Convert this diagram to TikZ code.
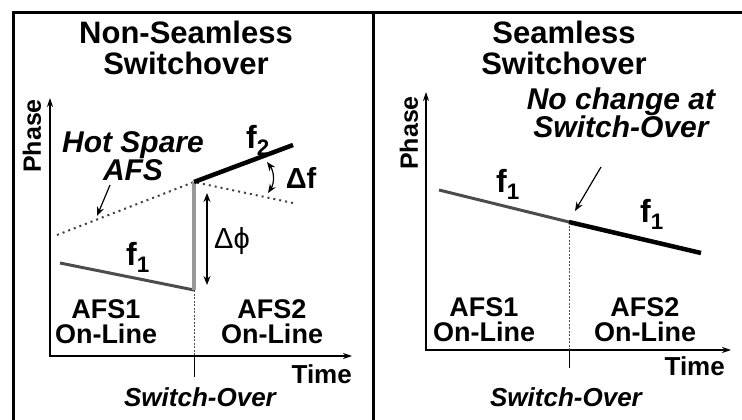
\documentclass[tikz,border=0pt]{standalone}
\usepackage{fontspec}
\setmainfont{Liberation Sans}
\usetikzlibrary{arrows.meta,positioning}
\tikzset{
  swframe/.style={line width=3pt, draw=black},
  swtitle/.style={font=\bfseries\fontsize{31}{31}\selectfont, align=center},
  swlabel/.style={font=\bfseries\fontsize{27}{25}\selectfont, align=center, inner sep=0pt},
  swnote/.style={font=\bfseries\itshape\fontsize{30}{28}\selectfont, align=center, inner sep=0pt},
  swfreq/.style={font=\bfseries\fontsize{32}{30}\selectfont, inner sep=0pt},
  swaxis/.style={{Stealth[length=9pt,width=6pt]}-{Stealth[length=9pt,width=6pt]}, line width=1.2pt},
  swold/.style={draw=black!70, line width=3pt},
  swnew/.style={draw=black, line width=4.5pt},
  swspare/.style={draw=black!75, line width=2pt, dash pattern=on 2pt off 4pt},
  swmark/.style={draw=black!70, line width=0.6pt, dash pattern=on 2pt off 1.5pt},
  swpoint/.style={-{Stealth[length=9pt,width=7pt]}, line width=1.2pt},
  swboth/.style={{Stealth[length=9pt,width=7pt]}-{Stealth[length=9pt,width=7pt]}, line width=1.2pt},
}
\begin{document}
\begin{tikzpicture}[x=1pt,y=-1pt]
  \useasboundingbox (0,0) rectangle (742,420);
  % frame
  \draw[swframe] (13,420) -- (13,13) -- (742,13);
  \draw[swframe] (373,13) -- (373,420);

  % left panel: non-seamless
  \node[swtitle, inner sep=0pt] (ltitle) at (186,48) {Non-Seamless\\Switchover};
  \coordinate (ltop) at (50,98);
  \coordinate (lorig) at (50,356);
  \coordinate (lend) at (352,356);
  \draw[swaxis] (ltop) -- (lorig) -- (lend);
  \node[swlabel, rotate=90, font=\bfseries\fontsize{25}{25}\selectfont] (lphase) at (32,136) {Phase};
  \node[swlabel, anchor=east, font=\bfseries\fontsize{26}{26}\selectfont] (ltime) at (352,374) {Time};

  \coordinate (la) at (60,263);
  \coordinate (lsw) at (194,290);
  \coordinate (lswt) at (194,182);
  \coordinate (lb) at (293,145);
  \coordinate (lsa) at (57,235);
  \coordinate (lsb) at (293,203);
  \coordinate (lax) at (194,356);
  \coordinate (ltick) at (194,377);
  \draw[swmark] (lsw) -- (lax);
  \draw[line width=0.6pt] (lax) -- (ltick);
  \draw[swspare] (lsa) -- (lswt) -- (lsb);
  \draw[swold] (la) -- (lsw);
  \draw[draw=black!40, line width=4pt] (lsw) -- (lswt);
  \draw[swnew] (lswt) -- (lb);

  \node[swnote] (lspare) at (133,156) {Hot Spare\\AFS};
  \coordinate (lspt) at (97,216);
  \draw[swpoint] (110,185) -- (lspt);
  \node[swfreq] (lf2) at (258,140) {f\textsubscript{2}};
  \node[swfreq] (lf1) at (138,257) {f\textsubscript{1}};
  \coordinate (ldfa) at (267,162);
  \coordinate (ldfb) at (268,193);
  \draw[swboth] (ldfa) to[bend left=35] (ldfb);
  \node[swfreq, font=\bfseries\fontsize{29}{29}\selectfont] (ldf) at (301,178) {Δf};
  \coordinate (ldpa) at (207,193);
  \coordinate (ldpb) at (207,285);
  \draw[swboth] (ldpa) -- (ldpb);
  \node[font=\fontsize{29}{29}\selectfont, inner sep=0pt] (ldp) at (232,241) {Δϕ};
  \node[swlabel] (lafs1) at (106,322) {AFS1\\On-Line};
  \node[swlabel] (lafs2) at (272,322) {AFS2\\On-Line};
  \node[swnote, font=\bfseries\itshape\fontsize{26}{26}\selectfont] (lover) at (200,397) {Switch-Over};

  % right panel: seamless
  \node[swtitle, inner sep=0pt] (rtitle) at (564,48) {Seamless\\Switchover};
  \coordinate (rtop) at (426,92);
  \coordinate (rorig) at (426,350);
  \coordinate (rend) at (731,350);
  \draw[swaxis] (rtop) -- (rorig) -- (rend);
  \node[swlabel, rotate=90, font=\bfseries\fontsize{25}{25}\selectfont] (rphase) at (409,133) {Phase};
  \node[swlabel, anchor=east, font=\bfseries\fontsize{26}{26}\selectfont] (rtime) at (725,366) {Time};

  \coordinate (ra) at (439,190);
  \coordinate (rsw) at (569,222);
  \coordinate (rb) at (701,253);
  \coordinate (rax) at (569,350);
  \coordinate (rtick) at (569,368);
  \draw[swmark] (rsw) -- (rax);
  \draw[line width=0.6pt] (rax) -- (rtick);
  \draw[swold] (ra) -- (rsw);
  \draw[swnew] (rsw) -- (rb);

  \node[swnote] (rnote) at (621,113) {No change at\\Switch-Over};
  \coordinate (rnpt) at (575,211);
  \draw[swpoint] (601,167) -- (rnpt);
  \node[swfreq] (rf1a) at (508,184) {f\textsubscript{1}};
  \node[swfreq] (rf1b) at (652,214) {f\textsubscript{1}};
  \node[swlabel] (rafs1) at (484,320) {AFS1\\On-Line};
  \node[swlabel] (rafs2) at (645,320) {AFS2\\On-Line};
  \node[swnote, font=\bfseries\itshape\fontsize{26}{26}\selectfont] (rover) at (566,397) {Switch-Over};
\end{tikzpicture}
\end{document}
